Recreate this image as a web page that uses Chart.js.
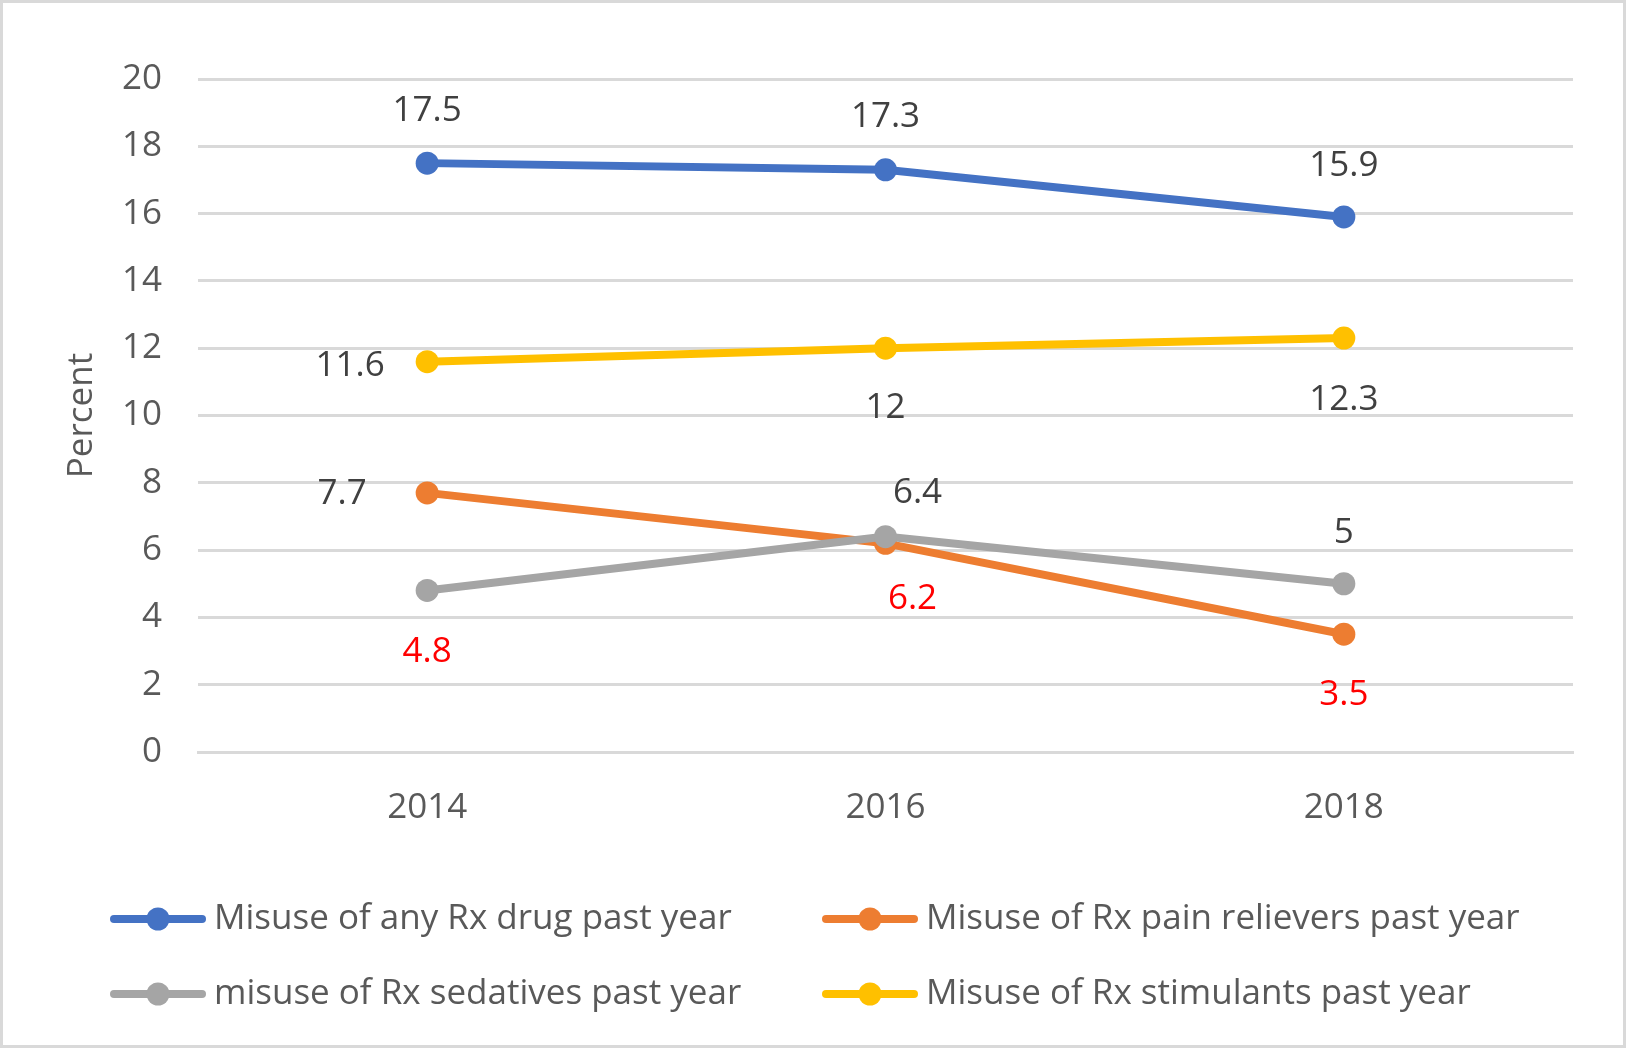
<!DOCTYPE html>
<html>
<head>
<meta charset="utf-8">
<script src="https://cdn.jsdelivr.net/npm/chart.js@4/dist/chart.umd.min.js"></script>
<style>
html, body { margin: 0; padding: 0; background: #fff; }
#wrap { width: 1626px; height: 1048px; box-sizing: border-box; border: 3px solid #d9d9d9; }
canvas { display: block; }
</style>
</head>
<body>
<div id="wrap"><canvas id="myChart" width="1620" height="1042"></canvas></div>
<script>
const years = ['2014', '2016', '2018'];
const anyRx = [17.5, 17.3, 15.9];
const painRelievers = [7.7, 6.2, 3.5];
const sedatives = [4.8, 6.4, 5];
const stimulants = [11.6, 12, 12.3];
const seriesNames = [
    'Misuse of any Rx drug past year',
    'Misuse of Rx pain relievers past year',
    'misuse of Rx sedatives past year',
    'Misuse of Rx stimulants past year'
];

const FONT = '"Open Sans", "Noto Sans", sans-serif';
const FSIZE = 35;
const TXT = '#595959';

// label placement per point, relative to the marker (dx, dy, colour)
const labelStyle = [
    [[0, -52, '#404040'], [0, -53, '#404040'], [0, -51, '#404040']],
    [[-85, 1, '#404040'], [27, 56, '#ff0000'], [0, 61, '#ff0000']],
    [[0, 62, '#ff0000'], [32, -44, '#404040'], [0, -51, '#404040']],
    [[-77, 4, '#404040'], [0, 60, '#404040'], [0, 62, '#404040']]
];

function line(label, data, color, order) {
    return {
        label: label,
        data: data,
        borderColor: color,
        backgroundColor: color,
        borderWidth: 8,
        pointRadius: 11.5,
        pointHoverRadius: 11.5,
        pointBorderWidth: 0,
        tension: 0,
        order: order
    };
}

const dataLabels = {
    id: 'dataLabels',
    afterDatasetsDraw(chart) {
        const ctx = chart.ctx;
        ctx.save();
        ctx.font = FSIZE + 'px ' + FONT;
        ctx.textAlign = 'center';
        ctx.textBaseline = 'middle';
        chart.data.datasets.forEach((ds, di) => {
            chart.getDatasetMeta(di).data.forEach((pt, i) => {
                const s = labelStyle[di][i];
                ctx.fillStyle = s[2];
                ctx.fillText(String(ds.data[i]), pt.x + s[0], pt.y + s[1]);
            });
        });
        ctx.restore();
    }
};

// two-column legend like the Excel one
const legendCols = [107, 819];
const legendRows = [916, 991];
const excelLegend = {
    id: 'excelLegend',
    afterDraw(chart) {
        const ctx = chart.ctx;
        ctx.save();
        ctx.font = FSIZE + 'px ' + FONT;
        ctx.textBaseline = 'middle';
        ctx.textAlign = 'left';
        chart.data.datasets.forEach((ds, i) => {
            const x = legendCols[i % 2];
            const y = legendRows[Math.floor(i / 2)];
            ctx.strokeStyle = ds.borderColor;
            ctx.lineWidth = 8;
            ctx.lineCap = 'round';
            ctx.beginPath();
            ctx.moveTo(x + 4, y);
            ctx.lineTo(x + 92, y);
            ctx.stroke();
            ctx.fillStyle = ds.borderColor;
            ctx.beginPath();
            ctx.arc(x + 48, y, 11.5, 0, Math.PI * 2);
            ctx.fill();
            ctx.fillStyle = TXT;
            ctx.fillText(ds.label, x + 104, y);
        });
        ctx.restore();
    }
};

const data = {
    labels: years,
    datasets: [
        line(seriesNames[0], anyRx, '#4472c4', 4),
        line(seriesNames[1], painRelievers, '#ed7d31', 3),
        line(seriesNames[2], sedatives, '#a5a5a5', 2),
        line(seriesNames[3], stimulants, '#ffc000', 1)
    ]
};

const config = {
    type: 'line',
    data: data,
    options: {
        responsive: false,
        animation: false,
        devicePixelRatio: 1,
        layout: {
            padding: { left: 0, right: 50, top: 76, bottom: 213 }
        },
        plugins: {
            legend: { display: false },
            tooltip: { enabled: false }
        },
        scales: {
            x: {
                offset: true,
                grid: { display: false, drawTicks: false },
                border: { display: true, color: '#d9d9d9', width: 3 },
                ticks: {
                    color: TXT,
                    padding: 35,
                    font: { family: FONT, size: FSIZE }
                },
                afterFit(scale) { scale.height = 80; }
            },
            y: {
                min: 0,
                max: 20,
                ticks: {
                    stepSize: 2,
                    color: TXT,
                    padding: 36,
                    font: { family: FONT, size: FSIZE }
                },
                grid: { color: '#d9d9d9', lineWidth: 3, drawTicks: false },
                border: { display: false },
                title: {
                    display: true,
                    text: 'Percent',
                    color: TXT,
                    font: { family: FONT, size: FSIZE },
                    padding: { top: 58, bottom: 0 }
                },
                afterFit(scale) { scale.width = 195; }
            }
        }
    },
    plugins: [dataLabels, excelLegend]
};

const myChart = new Chart(document.getElementById('myChart'), config);
</script>
</body>
</html>
